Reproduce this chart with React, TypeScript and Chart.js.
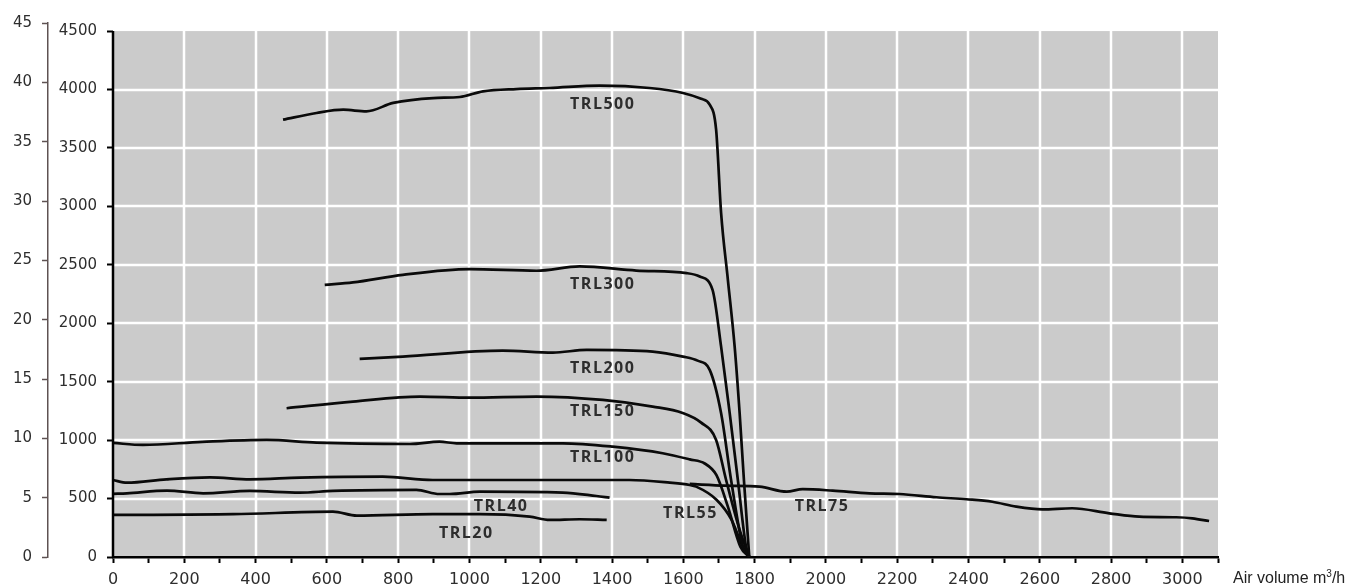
import React, { useEffect, useRef } from "react";
import { Chart, registerables } from "chart.js";

Chart.register(...registerables);

// ---- tick labels ----
const X_TICK_LABELS = [0, 200, 400, 600, 800, 1000, 1200, 1400, 1600, 1800, 2000, 2200, 2400, 2600, 2800, 3000];
const Y_TICK_LABELS = [0, 500, 1000, 1500, 2000, 2500, 3000, 3500, 4000, 4500];
const OUTER_TICK_LABELS = [0, 5, 10, 15, 20, 25, 30, 35, 40, 45];
const X_MAX = 3100;
const Y_GRID_MAX = 4500;
const Y_MAX = 4569;
const OUTER_MAX = 45;

// ---- series (air volume m3/h, value) ----
const TRL500 = [
  [477, 3742], [571, 3799], [646, 3827], [711, 3813], [786, 3885], [898, 3927], [973, 3936],
  [1038, 3984], [1132, 4004], [1225, 4013], [1365, 4033], [1505, 4013], [1599, 3970],
  [1650, 3920], [1674, 3870], [1692, 3656], [1706, 2943], [1725, 2372], [1744, 1800],
  [1758, 1230], [1770, 659], [1785, 0],
];
const TRL300 = [
  [594, 2329], [673, 2349], [813, 2414], [1001, 2463], [1188, 2449], [1309, 2486], [1468, 2451],
  [1609, 2429], [1646, 2400], [1682, 2286], [1706, 1800], [1730, 1233], [1753, 659],
  [1776, 88], [1785, 0],
];
const TRL200 = [
  [692, 1695], [813, 1715], [1093, 1766], [1234, 1749], [1329, 1772], [1514, 1758], [1599, 1715],
  [1640, 1680], [1674, 1601], [1706, 1230], [1734, 659], [1767, 88], [1785, 0],
];
const TRL150 = [
  [487, 1273], [673, 1330], [861, 1373], [1001, 1364], [1188, 1373], [1374, 1344], [1514, 1287],
  [1598, 1233], [1650, 1150], [1692, 1002], [1720, 659], [1758, 231], [1785, 0],
];
const TRL100 = [
  [0, 976], [84, 959], [250, 985], [431, 1002], [571, 979], [833, 967], [916, 987], [964, 973],
  [1262, 973], [1402, 944], [1542, 888], [1618, 835], [1660, 800], [1693, 700], [1725, 431],
  [1760, 88], [1785, 0],
];
const TRL55 = [
  [0, 659], [39, 636], [150, 665], [272, 682], [384, 665], [524, 679], [757, 688], [897, 659],
  [1169, 659], [1449, 659], [1562, 636], [1618, 616], [1636, 602], [1693, 490], [1735, 320],
  [1765, 100], [1785, 0],
];
const TRL75 = [
  [1618, 625], [1718, 611], [1814, 602], [1890, 559], [1935, 580], [2019, 568], [2122, 545],
  [2206, 539], [2310, 511], [2394, 494], [2467, 473], [2534, 431], [2607, 408], [2691, 417],
  [2795, 374], [2879, 345], [2983, 340], [3028, 331], [3075, 308],
];
const TRL40 = [
  [0, 540], [39, 545], [151, 568], [253, 545], [384, 565], [524, 551], [617, 565], [851, 574],
  [916, 539], [945, 539], [1029, 559], [1262, 551], [1356, 522], [1393, 508],
];
const TRL20 = [
  [0, 360], [337, 366], [617, 388], [684, 354], [897, 366], [1029, 366], [1169, 345],
  [1225, 317], [1309, 323], [1385, 317],
];

const SERIES_NAMES = ["TRL500", "TRL300", "TRL200", "TRL150", "TRL100", "TRL55", "TRL75", "TRL40", "TRL20"];
const SERIES_DATA = [TRL500, TRL300, TRL200, TRL150, TRL100, TRL55, TRL75, TRL40, TRL20];

// curve labels: [text, air volume, value]
const CURVE_LABELS: [string, number, number][] = [
  ["TRL500", 1374, 3870],
  ["TRL300", 1374, 2329],
  ["TRL200", 1374, 1614],
  ["TRL150", 1374, 1246],
  ["TRL100", 1374, 848],
  ["TRL55", 1620, 377],
  ["TRL75", 1989, 432],
  ["TRL40", 1089, 432],
  ["TRL20", 991, 205],
];

const TICK_FONT = { family: "'DejaVu Sans', sans-serif", size: 15 };
const TICK_COLOR = "#2e2e2e";

const backdropPlugin = {
  id: "backdrop",
  beforeDraw(chart: any) {
    const { ctx, scales } = chart;
    const x = scales.x;
    const y = scales.y;
    const left = x.getPixelForValue(0);
    const right = x.getPixelForValue(X_MAX);
    const top = y.getPixelForValue(Y_GRID_MAX);
    const bottom = y.getPixelForValue(0);
    ctx.save();
    ctx.fillStyle = "#cbcbcb";
    ctx.fillRect(left, top, right - left, bottom - top);
    ctx.strokeStyle = "#ffffff";
    ctx.lineWidth = 2.5;
    ctx.beginPath();
    X_TICK_LABELS.forEach((v) => {
      if (v === 0) return;
      const px = Math.round(x.getPixelForValue(v));
      ctx.moveTo(px, top);
      ctx.lineTo(px, bottom);
    });
    Y_TICK_LABELS.forEach((v) => {
      if (v === 0 || v === Y_GRID_MAX) return;
      const py = Math.round(y.getPixelForValue(v));
      ctx.moveTo(left, py);
      ctx.lineTo(right, py);
    });
    ctx.stroke();
    ctx.restore();
  },
  afterDatasetsDraw(chart: any) {
    const { ctx, scales } = chart;
    const x = scales.x;
    const y = scales.y;
    const left = x.getPixelForValue(0);
    const top = y.getPixelForValue(Y_GRID_MAX);
    const bottom = y.getPixelForValue(0);
    ctx.save();
    ctx.strokeStyle = "#000";
    ctx.lineWidth = 2.5;
    ctx.beginPath();
    ctx.moveTo(left, top);
    ctx.lineTo(left, bottom + 1);
    ctx.stroke();

    ctx.font = "700 16px 'Open Sans', sans-serif";
    ctx.fillStyle = "#2d2d2d";
    ctx.textAlign = "center";
    ctx.textBaseline = "middle";
    (ctx as any).letterSpacing = "1.5px";
    CURVE_LABELS.forEach(([t, vx, vy]) => {
      ctx.fillText(t, x.getPixelForValue(vx), y.getPixelForValue(vy));
    });
    ctx.restore();
  },
};

export default function App() {
  const canvasRef = useRef<HTMLCanvasElement | null>(null);

  useEffect(() => {
    if (!canvasRef.current) return;
    const chart = new Chart(canvasRef.current, {
      type: "line",
      data: {
        datasets: SERIES_DATA.map((pts, i) => ({
          label: SERIES_NAMES[i],
          data: pts.map(([px, py]) => ({ x: px, y: py })),
          borderColor: "#0a0a0a",
          borderWidth: 2.7,
          pointRadius: 0,
          fill: false,
          cubicInterpolationMode: "monotone" as const,
          xAxisID: "x",
          yAxisID: "y",
        })),
      },
      options: {
        animation: false,
        responsive: true,
        maintainAspectRatio: false,
        layout: { padding: { top: 23, right: 147, left: 0, bottom: 0 } },
        plugins: {
          legend: { display: false },
          tooltip: { enabled: false },
        },
        events: [],
        scales: {
          x: {
            type: "linear",
            position: "bottom",
            min: 0,
            max: X_MAX,
            ticks: {
              stepSize: 100,
              autoSkip: false,
              maxRotation: 0,
              includeBounds: true,
              padding: 7,
              font: { family: "'DejaVu Sans', sans-serif", size: 16 },
              color: TICK_COLOR,
              callback: (v: any) => (X_TICK_LABELS.includes(Number(v)) ? String(v) : ""),
            },
            grid: {
              drawOnChartArea: false,
              drawTicks: true,
              tickLength: 6,
              tickColor: "#000",
              tickWidth: 2,
            },
            border: { display: true, color: "#000", width: 2.5 },
            afterFit: (s: any) => {
              s.height = 30;
            },
          },
          y: {
            type: "linear",
            position: "left",
            weight: 0,
            min: 0,
            max: Y_MAX,
            afterBuildTicks: (s: any) => {
              s.ticks = Y_TICK_LABELS.map((v) => ({ value: v }));
            },
            ticks: {
              padding: 10,
              font: TICK_FONT,
              color: TICK_COLOR,
              callback: (v: any) => String(v),
            },
            grid: {
              drawOnChartArea: false,
              drawTicks: true,
              tickLength: 6,
              tickColor: "#000",
              tickWidth: 2,
            },
            border: { display: false },
            afterFit: (s: any) => {
              s.width = 65;
            },
          },
          yOuter: {
            type: "linear",
            position: "left",
            weight: 1,
            min: 0,
            max: OUTER_MAX,
            afterBuildTicks: (s: any) => {
              s.ticks = OUTER_TICK_LABELS.map((v) => ({ value: v }));
            },
            ticks: {
              padding: 10,
              font: TICK_FONT,
              color: TICK_COLOR,
              callback: (v: any) => String(v),
            },
            grid: {
              drawOnChartArea: false,
              drawTicks: true,
              tickLength: 6,
              tickColor: "#5e5252",
              tickWidth: 1.5,
            },
            border: { display: true, color: "#5e5252", width: 1.5 },
            afterFit: (s: any) => {
              s.width = 48;
            },
          },
        },
      } as any,
      plugins: [backdropPlugin],
    });
    return () => chart.destroy();
  }, []);

  return (
    <>
      <div style={{ position: "absolute", left: 0, top: 0, width: 1365, height: 587 }}>
        <canvas ref={canvasRef} />
      </div>
      <div
        style={{
          position: "absolute",
          left: 1233,
          top: 568,
          fontFamily: "'Liberation Sans', Arial, sans-serif",
          fontSize: 16,
          color: "#222",
          whiteSpace: "nowrap",
          lineHeight: "19px",
        }}
      >
        Air volume m<sup style={{ fontSize: 10, lineHeight: 0 }}>3</sup>/h
      </div>
    </>
  );
}
